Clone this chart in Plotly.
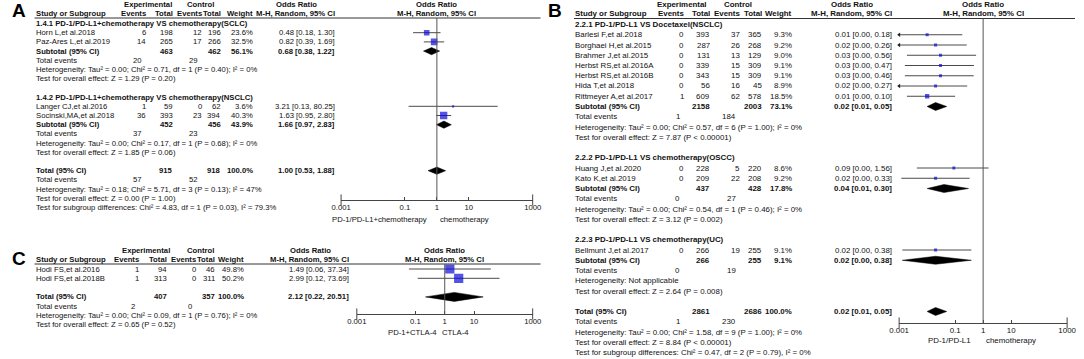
import plotly.graph_objects as go

W, H = 1084, 359
FONT = "Liberation Sans, Arial, sans-serif"
TXT = "#111"

# ================= DATA =================
# ---- Panel A ----
A_titles = ["1.4.1 PD-1/PD-L1+chemotherapy VS chemotherapy(SCLC)",
            "1.4.2 PD-1/PD-L1+chemotherapy VS chemotherapy(NSCLC)"]
A_study = [["Horn L,et al.2018", "Paz-Ares L,et al.2019"],
           ["Langer CJ,et al.2016", "Socinski,MA,et al.2018"]]
A_exp_ev = [[6, 14], [1, 36]]
A_exp_n = [[198, 265], [59, 393]]
A_ctl_ev = [[12, 17], [0, 23]]
A_ctl_n = [[196, 266], [62, 394]]
A_weight = [[23.6, 32.5], [3.6, 40.3]]
A_or = [[0.48, 0.82], [3.21, 1.63]]
A_lo = [[0.18, 0.39], [0.13, 0.95]]
A_hi = [[1.30, 1.69], [80.25, 2.80]]
A_sub_exp_n = [463, 452]
A_sub_ctl_n = [462, 456]
A_sub_w = [56.1, 43.9]
A_sub_or = [0.68, 1.66]
A_sub_lo = [0.38, 0.97]
A_sub_hi = [1.22, 2.83]
A_sub_exp_ev = [20, 37]
A_sub_ctl_ev = [29, 23]
A_sub_het = ["Heterogeneity: Tau² = 0.00; Chi² = 0.71, df = 1 (P = 0.40); I² = 0%",
             "Heterogeneity: Tau² = 0.00; Chi² = 0.17, df = 1 (P = 0.68); I² = 0%"]
A_sub_z = ["Test for overall effect: Z = 1.29 (P = 0.20)",
           "Test for overall effect: Z = 1.85 (P = 0.06)"]
A_tot_n = [915, 918]
A_tot_or = [1.00, 0.53, 1.88]
A_tot_ev = [57, 52]
A_tot_het = "Heterogeneity: Tau² = 0.18; Chi² = 5.71, df = 3 (P = 0.13); I² = 47%"
A_tot_z = "Test for overall effect: Z = 0.00 (P = 1.00)"
A_tot_sub = "Test for subgroup differences: Chi² = 4.83, df = 1 (P = 0.03), I² = 79.3%"
A_favours = ["PD-1/PD-L1+chemotherapy", "chemotherapy"]

# ---- Panel B ----
B_titles = ["2.2.1 PD-1/PD-L1 VS Docetaxel(NSCLC)",
            "2.2.2 PD-1/PD-L1 VS chemotherapy(OSCC)",
            "2.2.3 PD-1/PD-L1 VS chemotherapy(UC)"]
B_study = [["Barlesi F,et al.2018", "Borghaei H,et al.2015", "Brahmer J,et al.2015",
            "Herbst RS,et al.2016A", "Herbst RS,et al.2016B", "Hida T,et al.2018",
            "Rittmeyer A,et al.2017"],
           ["Huang J,et al.2020", "Kato K,et al.2019"],
           ["Bellmunt J,et al.2017"]]
B_exp_ev = [[0, 0, 0, 0, 0, 0, 1], [0, 0], [0]]
B_exp_n = [[393, 287, 131, 339, 343, 56, 609], [228, 209], [266]]
B_ctl_ev = [[37, 26, 13, 15, 15, 16, 62], [5, 22], [19]]
B_ctl_n = [[365, 268, 129, 309, 309, 45, 578], [220, 208], [255]]
B_weight = [[9.3, 9.2, 9.0, 9.1, 9.1, 8.9, 18.5], [8.6, 9.2], [9.1]]
B_or = [[0.01, 0.02, 0.03, 0.03, 0.03, 0.02, 0.01], [0.09, 0.02], [0.02]]
B_lo = [[0.0006, 0.0006, 0.0019, 0.0016, 0.0016, 0.0006, 0.0019], [0.0043, 0.0012], [0.0013]]
B_hi = [[0.18, 0.26, 0.56, 0.47, 0.46, 0.27, 0.10], [1.56, 0.33], [0.38]]
B_sub_exp_n = [2158, 437, 266]
B_sub_ctl_n = [2003, 428, 255]
B_sub_w = [73.1, 17.8, 9.1]
B_sub_or = [0.02, 0.04, 0.02]
B_sub_lo = [0.01, 0.01, 0.0013]
B_sub_hi = [0.05, 0.30, 0.38]
B_sub_exp_ev = [1, 0, 0]
B_sub_ctl_ev = [184, 27, 19]
B_sub_het = ["Heterogeneity: Tau² = 0.00; Chi² = 0.57, df = 6 (P = 1.00); I² = 0%",
             "Heterogeneity: Tau² = 0.00; Chi² = 0.54, df = 1 (P = 0.46); I² = 0%",
             "Heterogeneity: Not applicable"]
B_sub_z = ["Test for overall effect: Z = 7.87 (P < 0.00001)",
           "Test for overall effect: Z = 3.12 (P = 0.002)",
           "Test for overall effect: Z = 2.64 (P = 0.008)"]
B_tot_n = [2861, 2686]
B_tot_or = [0.02, 0.01, 0.05]
B_tot_ev = [1, 230]
B_tot_het = "Heterogeneity: Tau² = 0.00; Chi² = 1.58, df = 9 (P = 1.00); I² = 0%"
B_tot_z = "Test for overall effect: Z = 8.84 (P < 0.00001)"
B_tot_sub = "Test for subgroup differences: Chi² = 0.47, df = 2 (P = 0.79), I² = 0%"
B_favours = ["PD-1/PD-L1", "chemotherapy"]

# ---- Panel C ----
C_study = ["Hodi FS,et al.2016", "Hodi FS,et al.2018B"]
C_exp_ev = [1, 1]
C_exp_n = [94, 313]
C_ctl_ev = [0, 0]
C_ctl_n = [46, 311]
C_weight = [49.8, 50.2]
C_or = [1.49, 2.99]
C_lo = [0.06, 0.12]
C_hi = [37.34, 73.69]
C_tot_n = [407, 357]
C_tot_or = [2.12, 0.22, 20.51]
C_tot_ev = [2, 0]
C_tot_het = "Heterogeneity: Tau² = 0.00; Chi² = 0.09, df = 1 (P = 0.76); I² = 0%"
C_tot_z = "Test for overall effect: Z = 0.65 (P = 0.52)"
C_favours = ["PD-1+CTLA-4", "CTLA-4"]

TICKS = [0.001, 0.1, 1, 10, 1000]
TICK_TEXT = ["0.001", "0.1", "1", "10", "1000"]

# ================= LAYOUT HELPERS =================
annotations, shapes, traces = [], [], []
axes = {}


def px(x):
    return x / W


def py(y):
    return 1 - y / H


def txt(x, y, s, anchor="left", bold=False, size=7.5, color=TXT):
    annotations.append(dict(
        x=px(x), y=py(y), xref="paper", yref="paper",
        text=f"<b>{s}</b>" if bold else s, showarrow=False,
        xanchor=anchor, yanchor="middle", borderpad=0, borderwidth=0,
        font=dict(family=FONT, size=size, color=color)))


def fmt_or(o, l, h):
    return f"{o:.2f} [{l:.2f}, {h:.2f}]"


def panel(G, groups, total, n):
    fs = G["fs"]
    xa = "x" if n == 1 else f"x{n}"
    ya = "y" if n == 1 else f"y{n}"
    c = G["cols"]  # right edges: exp ev, exp n, ctl ev, ctl n, weight, or
    xone = (G["x0"] + G["x1"]) / 2

    txt(G["lx"], G["ly"], G["letter"], "left", True, 19, "#000")
    txt(G["c_exp"], G["h1"], "Experimental", "center", True, fs)
    txt(G["c_ctl"], G["h1"], "Control", "center", True, fs)
    orc = c[5] - G["mh_w"] / 2
    txt(orc, G["h1"], "Odds Ratio", "center", True, fs)
    txt(xone, G["h1"], "Odds Ratio", "center", True, fs)
    txt(G["sx"], G["h2"], "Study or Subgroup", "left", True, fs)
    for k, lab in enumerate(["Events", "Total", "Events", "Total", "Weight"]):
        txt(c[k], G["h2"], lab, "right", True, fs)
    txt(c[5], G["h2"], "M-H, Random, 95% CI", "right", True, fs)
    txt(xone, G["h2"], "M-H, Random, 95% CI", "center", True, fs)
    shapes.append(dict(type="line", xref="paper", yref="paper",
                       x0=px(G["sx"] - 1), x1=px(G["lend"]), y0=py(G["line"]), y1=py(G["line"]),
                       line=dict(color="#333", width=1)))

    def yrow(i):
        return G["y0"] + i * G["pitch"]

    ci_x, ci_y, arr_x, arr_y = [], [], [], []
    sq_x, sq_y, sq_s = [], [], []
    dia_x, dia_y = [], []
    hh = G["dh"]

    def diamond(o, l, h, yy):
        dia_x.extend([l, o, h, o, l, None])
        dia_y.extend([yy, yy - hh, yy, yy + hh, yy, None])

    i = 0
    for g in groups:
        if g.get("title"):
            txt(G["sx"], yrow(i), g["title"], "left", True, fs)
            i += 1
        for k, name in enumerate(g["study"]):
            yy = yrow(i)
            txt(G["sx"], yy, name, "left", False, fs)
            vals = [g["ee"][k], g["en"][k], g["ce"][k], g["cn"][k]]
            for j, v in enumerate(vals):
                txt(c[j], yy, str(v), "right", False, fs)
            txt(c[4], yy, f"{g['w'][k]:.1f}%", "right", False, fs)
            txt(c[5], yy, fmt_or(g["or"][k], g["lo"][k], g["hi"][k]), "right", False, fs)
            lo = max(g["lo"][k], 0.001)
            hi = min(g["hi"][k], 1000)
            ci_x.extend([lo, hi, None])
            ci_y.extend([yy, yy, None])
            if g["lo"][k] < 0.001:
                arr_x.append(0.001)
                arr_y.append(yy)
            sq_x.append(g["or"][k])
            sq_y.append(yy)
            sq_s.append(G["msc"] * g["w"][k] ** 0.5)
            i += 1
        if g.get("sub"):
            s = g["sub"]
            yy = yrow(i)
            txt(G["sx"], yy, "Subtotal (95% CI)", "left", True, fs)
            txt(c[1], yy, str(s["en"]), "right", True, fs)
            txt(c[3], yy, str(s["cn"]), "right", True, fs)
            txt(c[4], yy, f"{s['w']:.1f}%", "right", True, fs)
            txt(c[5], yy, fmt_or(s["or"], s["lo"], s["hi"]), "right", True, fs)
            diamond(s["or"], s["lo"], s["hi"], yy)
            i += 1
            yy = yrow(i)
            txt(G["sx"], yy, "Total events", "left", False, fs)
            txt(c[0] - 4, yy, str(s["ee"]), "right", False, fs)
            txt(c[2] - 4, yy, str(s["ce"]), "right", False, fs)
            i += 1
            txt(G["sx"], yrow(i), s["het"], "left", False, fs)
            i += 1
            txt(G["sx"], yrow(i), s["z"], "left", False, fs)
            i += 1
        i += 1  # blank line

    yy = yrow(i)
    txt(G["sx"], yy, "Total (95% CI)", "left", True, fs)
    txt(c[1], yy, str(total["n"][0]), "right", True, fs)
    txt(c[3], yy, str(total["n"][1]), "right", True, fs)
    txt(c[4], yy, "100.0%", "right", True, fs)
    o, l, h = total["or"]
    txt(c[5], yy, fmt_or(o, l, h), "right", True, fs)
    diamond(o, l, h, yy)
    i += 1
    yy = yrow(i)
    txt(G["sx"], yy, "Total events", "left", False, fs)
    txt(c[0] - 4, yy, str(total["ev"][0]), "right", False, fs)
    txt(c[2] - 4, yy, str(total["ev"][1]), "right", False, fs)
    i += 1
    txt(G["sx"], yrow(i), total["het"], "left", False, fs)
    i += 1
    txt(G["sx"], yrow(i), total["z"], "left", False, fs)
    i += 1
    if total.get("sub"):
        txt(G["sx"], yrow(i), total["sub"], "left", False, fs)

    txt(xone - G["fg"][0], G["fav_y"], total["fav"][0], "right", False, fs)
    txt(xone + G["fg"][1], G["fav_y"], total["fav"][1], "left", False, fs)

    traces.append(go.Scatter(x=ci_x, y=ci_y, mode="lines", xaxis=xa, yaxis=ya,
                             line=dict(color="#4a4a4a", width=1), hoverinfo="skip",
                             showlegend=False))
    if arr_x:
        traces.append(go.Scatter(x=arr_x, y=arr_y, mode="markers", xaxis=xa, yaxis=ya,
                                 marker=dict(symbol="triangle-left", size=4, color="#222"),
                                 hoverinfo="skip", showlegend=False, cliponaxis=False))
    traces.append(go.Scatter(x=sq_x, y=sq_y, mode="markers", xaxis=xa, yaxis=ya,
                             marker=dict(symbol="square", size=sq_s, color="#0a0adc",
                                         line=dict(width=0)),
                             hoverinfo="skip", showlegend=False))
    traces.append(go.Scatter(x=dia_x, y=dia_y, mode="lines", fill="toself", xaxis=xa, yaxis=ya,
                             fillcolor="#000", line=dict(color="#000", width=0.5),
                             hoverinfo="skip", showlegend=False))
    # taller end ticks of the scale (at the first and last tick values)
    traces.append(go.Scatter(x=[TICKS[0], TICKS[-1]], y=[G["axis"], G["axis"]], mode="markers",
                             xaxis=xa, yaxis=ya, cliponaxis=False,
                             marker=dict(symbol="line-ns-open", size=8, color="#444",
                                         line=dict(color="#444", width=1)),
                             hoverinfo="skip", showlegend=False))
    shapes.append(dict(type="line", xref=xa, yref=ya, x0=1, x1=1, y0=G["line"], y1=G["axis"],
                       line=dict(color="#555", width=1)))

    axes["xaxis" if n == 1 else f"xaxis{n}"] = dict(
        type="log", range=[-3, 3], domain=[px(G["x0"]), px(G["x1"])], anchor=ya,
        tickvals=TICKS, ticktext=TICK_TEXT, ticks="inside", ticklen=3, tickcolor="#444",
        showline=True, linecolor="#444", linewidth=1, showgrid=False, zeroline=False,
        tickfont=dict(family=FONT, size=fs, color=TXT), fixedrange=True)
    axes["yaxis" if n == 1 else f"yaxis{n}"] = dict(
        domain=[py(G["axis"]), py(G["line"])], range=[G["axis"], G["line"]],
        visible=False, anchor=xa, fixedrange=True)


def make_groups(titles, study, ee, en, ce, cn, w, orr, lo, hi,
                sen, scn, sw, sor, slo, shi, see, sce, shet, sz):
    out = []
    for g in range(len(titles)):
        out.append({"title": titles[g], "study": study[g], "ee": ee[g], "en": en[g],
                    "ce": ce[g], "cn": cn[g], "w": w[g], "or": orr[g], "lo": lo[g],
                    "hi": hi[g],
                    "sub": {"en": sen[g], "cn": scn[g], "w": sw[g], "or": sor[g],
                            "lo": slo[g], "hi": shi[g], "ee": see[g], "ce": sce[g],
                            "het": shet[g], "z": sz[g]}})
    return out


# ---- Panel A ----
A_groups = make_groups(A_titles, A_study, A_exp_ev, A_exp_n, A_ctl_ev, A_ctl_n, A_weight,
                       A_or, A_lo, A_hi, A_sub_exp_n, A_sub_ctl_n, A_sub_w, A_sub_or,
                       A_sub_lo, A_sub_hi, A_sub_exp_ev, A_sub_ctl_ev, A_sub_het, A_sub_z)
A_total = {"n": A_tot_n, "or": A_tot_or, "ev": A_tot_ev, "het": A_tot_het,
           "z": A_tot_z, "sub": A_tot_sub, "fav": A_favours}
GA = dict(letter="A", lx=2, ly=10.5, fs=7.7, sx=26, cols=[138, 166, 195, 215, 247, 331],
          c_exp=140, c_ctl=194, mh_w=79, h1=4.5, h2=13.5, line=18, lend=540,
          y0=23.5, pitch=9.2, x0=337, x1=532, axis=200, fav_y=219, fg=(10, 3),
          msc=1.15, dh=3.6)
panel(GA, A_groups, A_total, 1)

# ---- Panel B ----
B_groups = make_groups(B_titles, B_study, B_exp_ev, B_exp_n, B_ctl_ev, B_ctl_n, B_weight,
                       B_or, B_lo, B_hi, B_sub_exp_n, B_sub_ctl_n, B_sub_w, B_sub_or,
                       B_sub_lo, B_sub_hi, B_sub_exp_ev, B_sub_ctl_ev, B_sub_het, B_sub_z)
B_total = {"n": B_tot_n, "or": B_tot_or, "ev": B_tot_ev, "het": B_tot_het,
           "z": B_tot_z, "sub": B_tot_sub, "fav": B_favours}
GB = dict(letter="B", lx=548, ly=10.5, fs=7.9, sx=575, cols=[686, 712, 743, 765, 796, 898],
          c_exp=684, c_ctl=741, mh_w=81, h1=4.5, h2=13.5, line=18.5, lend=1084,
          y0=24.5, pitch=10.25, x0=905, x1=1076, axis=323, fav_y=340, fg=(12, 3),
          msc=1.0, dh=4.0)
panel(GB, B_groups, B_total, 2)

# ---- Panel C ----
C_groups = [{"title": None, "study": C_study, "ee": C_exp_ev, "en": C_exp_n, "ce": C_ctl_ev,
             "cn": C_ctl_n, "w": C_weight, "or": C_or, "lo": C_lo, "hi": C_hi, "sub": None}]
C_total = {"n": C_tot_n, "or": C_tot_or, "ev": C_tot_ev, "het": C_tot_het,
           "z": C_tot_z, "sub": None, "fav": C_favours}
GC = dict(letter="C", lx=2, ly=258, fs=7.7, sx=26, cols=[131, 160, 189, 209, 238, 345],
          c_exp=138, c_ctl=194, mh_w=79, h1=250, h2=259.5, line=264, lend=540,
          y0=269, pitch=9.3, x0=353, x1=532, axis=314, fav_y=332, fg=(8, -3),
          msc=1.3, dh=4.5)
panel(GC, C_groups, C_total, 3)

fig = go.Figure(data=traces)
fig.update_layout(width=W, height=H, margin=dict(l=0, r=0, t=0, b=0),
                  paper_bgcolor="white", plot_bgcolor="rgba(0,0,0,0)",
                  showlegend=False, annotations=annotations, shapes=shapes,
                  font=dict(family=FONT, size=7.5, color=TXT), **axes)
fig.write_html("out.html", config={"displayModeBar": False},
               post_script="document.body.style.margin='0';document.body.style.padding='0';"
                           "document.body.style.overflow='hidden';")
